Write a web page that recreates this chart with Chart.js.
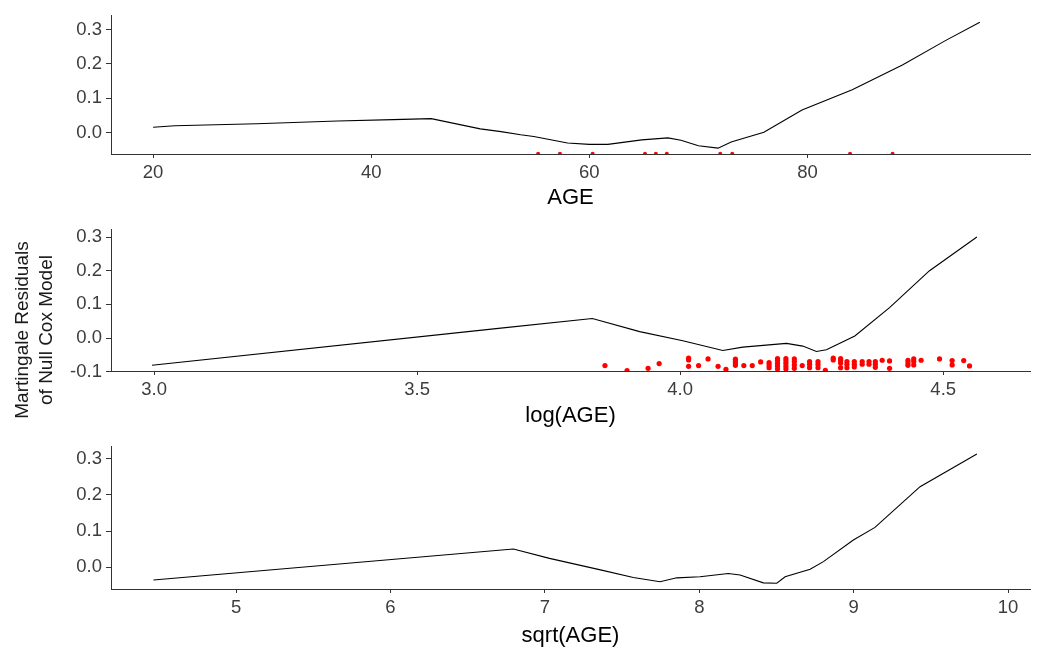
<!DOCTYPE html>
<html lang="en">
    <head>
        <meta charset="UTF-8">
        <title>Martingale residuals</title>
        <script src="https://cdn.jsdelivr.net/npm/chart.js@4/dist/chart.umd.min.js"></script>
        <style>
            body { margin: 0; background: #fff; }
            #wrap { position: relative; width: 1037px; height: 649px; overflow: hidden; }
            canvas { position: absolute; left: 0; }
            #ytitle {
                position: absolute; left: -96px; top: 306px; width: 260px; height: 48px;
                font: 19px 'Liberation Sans', Arial, sans-serif; line-height: 24px;
                text-align: center; color: #1a1a1a; transform: rotate(-90deg);
            }
        </style>
    </head>
<body>
    <div id="wrap">
        <canvas id="c1" width="1037" height="214" style="top:0px"></canvas>
        <canvas id="c2" width="1037" height="216" style="top:214px"></canvas>
        <canvas id="c3" width="1037" height="219" style="top:430px"></canvas>
        <div id="ytitle">Martingale Residuals<br>of Null Cox Model</div>
    </div>
    <script>
        // smoothed residual curves
        const ageX = [20, 22, 29.5, 36.9, 42, 45.5, 50, 51.9, 53.7, 54.9, 58, 60, 61.7, 64.8, 67.2, 68.4, 70, 71.8, 73, 76, 79.5, 84.1, 88.7, 92.6, 95.8];
        const ageY = [0.016, 0.02, 0.026, 0.034, 0.038, 0.041, 0.011, 0.003, -0.006, -0.011, -0.03, -0.034, -0.034, -0.021, -0.015, -0.022, -0.038, -0.045, -0.027, 0.001, 0.066, 0.125, 0.197, 0.267, 0.321];

        const logX = [2.996, 3.65, 3.833, 3.923, 4.005, 4.081, 4.119, 4.202, 4.233, 4.259, 4.278, 4.332, 4.398, 4.474, 4.564];
        const logY = [-0.081, 0.028, 0.058, 0.019, -0.008, -0.037, -0.027, -0.016, -0.024, -0.040, -0.035, 0.006, 0.090, 0.200, 0.300];

        const sqrtX = [4.465, 6.796, 7.03, 7.36, 7.573, 7.746, 7.854, 8.005, 8.188, 8.264, 8.415, 8.502, 8.556, 8.718, 8.804, 8.998, 9.138, 9.43, 9.798];
        const sqrtY = [-0.036, 0.05, 0.024, -0.008, -0.029, -0.041, -0.030, -0.027, -0.018, -0.022, -0.044, -0.045, -0.027, -0.006, 0.015, 0.075, 0.110, 0.223, 0.314];

        // residual points (only a few peek over the axis in the AGE panel)
        const agePtsX = [55.3, 57.3, 60.3, 65.1, 66.1, 67.1, 72, 73.1, 83.9, 87.8];
        const agePtsY = [-0.061, -0.061, -0.061, -0.061, -0.061, -0.061, -0.061, -0.061, -0.061, -0.061];

        const logPtsX = [3.857, 3.899, 3.939, 3.960,
            4.016, 4.016, 4.016, 4.035, 4.053, 4.072, 4.087,
            4.105, 4.105, 4.105, 4.105, 4.121, 4.137, 4.153,
            4.169, 4.169, 4.169,
            4.185, 4.185, 4.185, 4.185, 4.185,
            4.201, 4.201, 4.201, 4.201, 4.201,
            4.217, 4.217, 4.217, 4.217, 4.232,
            4.246, 4.246, 4.246, 4.262, 4.262, 4.262, 4.276,
            4.291, 4.291, 4.305, 4.305, 4.305, 4.305,
            4.317, 4.317, 4.317, 4.331, 4.331, 4.331,
            4.346, 4.346, 4.359, 4.359, 4.371, 4.371, 4.371,
            4.384, 4.398, 4.398, 4.433, 4.433, 4.433,
            4.444, 4.444, 4.444, 4.458, 4.493, 4.517, 4.517, 4.539, 4.550];
        const logPtsY = [-0.082, -0.097, -0.090, -0.076,
            -0.060, -0.065, -0.084, -0.082, -0.062, -0.084, -0.093,
            -0.063, -0.069, -0.076, -0.081, -0.082, -0.082, -0.071,
            -0.073, -0.080, -0.088,
            -0.061, -0.067, -0.075, -0.083, -0.092,
            -0.061, -0.068, -0.076, -0.084, -0.092,
            -0.062, -0.070, -0.080, -0.090, -0.082,
            -0.070, -0.078, -0.088, -0.070, -0.078, -0.088, -0.096,
            -0.060, -0.065, -0.061, -0.066, -0.074, -0.088,
            -0.070, -0.078, -0.088, -0.070, -0.078, -0.086,
            -0.070, -0.078, -0.070, -0.078, -0.070, -0.078, -0.087,
            -0.066, -0.068, -0.090, -0.066, -0.074, -0.081,
            -0.062, -0.070, -0.080, -0.066, -0.062, -0.067, -0.080, -0.067, -0.083];

        // tick labels
        const ageTicks = [20, 40, 60, 80];
        const logTicks = [3.0, 3.5, 4.0, 4.5];
        const sqrtTicks = [5, 6, 7, 8, 9, 10];
        const yTicks1 = [0.0, 0.1, 0.2, 0.3];
        const yTicks2 = [-0.1, 0.0, 0.1, 0.2, 0.3];
        const yTicks3 = [0.0, 0.1, 0.2, 0.3];

        Chart.defaults.font.family = "'Liberation Sans', Arial, sans-serif";

        function pairs(xs, ys) {
            return xs.map((x, i) => ({x: x, y: ys[i]}));
        }

        function makePanel(id, p) {
            new Chart(document.getElementById(id), {
                type: 'scatter',
                data: {
                    datasets: [{
                        type: 'scatter',
                        data: pairs(p.ptsX, p.ptsY),
                        backgroundColor: '#ff0000',
                        borderWidth: 0,
                        pointRadius: p.ptRadius,
                        clip: 0
                    }, {
                        type: 'line',
                        data: pairs(p.lineX, p.lineY),
                        borderColor: '#000000',
                        borderWidth: 1.1,
                        pointRadius: 0,
                        fill: false,
                        tension: 0
                    }]
                },
                options: {
                    responsive: false,
                    animation: false,
                    layout: { padding: { top: p.padTop, right: 7, left: 0, bottom: 0 } },
                    plugins: { legend: { display: false }, tooltip: { enabled: false } },
                    scales: {
                        x: {
                            type: 'linear',
                            min: p.xMin,
                            max: p.xMax,
                            afterBuildTicks: s => { s.ticks = p.xTicks.map(v => ({value: v})); },
                            afterFit: s => { s.height = p.xHeight; },
                            grid: { drawOnChartArea: false, drawTicks: true, tickLength: 4, color: '#333' },
                            border: { display: true, color: '#333', width: 1 },
                            ticks: {
                                color: '#3d3d3d', font: { size: 18.5 }, padding: 4,
                                autoSkip: false, maxRotation: 0,
                                callback: v => p.xFmt(v)
                            },
                            title: {
                                display: true, text: p.xTitle, color: '#000',
                                font: { size: 22 }, padding: { top: 0, bottom: p.titlePad }
                            }
                        },
                        y: {
                            type: 'linear',
                            min: p.yMin,
                            max: p.yMax,
                            afterBuildTicks: s => { s.ticks = p.yTicks.map(v => ({value: v})); },
                            afterFit: s => { s.width = 111; },
                            grid: { drawOnChartArea: false, drawTicks: true, tickLength: 5, color: '#333' },
                            border: { display: true, color: '#333', width: 1 },
                            ticks: {
                                color: '#3d3d3d', font: { size: 18.5 }, padding: 4,
                                callback: v => v.toFixed(1)
                            }
                        }
                    }
                }
            });
        }

        makePanel('c1', {
            lineX: ageX, lineY: ageY, ptsX: agePtsX, ptsY: agePtsY, ptRadius: 2,
            xMin: 16.14, xMax: 100.4, yMin: -0.062, yMax: 0.342,
            xTicks: ageTicks, yTicks: yTicks1, xFmt: v => String(v),
            xTitle: 'AGE', padTop: 10, xHeight: 60, titlePad: 3
        });

        makePanel('c2', {
            lineX: logX, lineY: logY, ptsX: logPtsX, ptsY: logPtsY, ptRadius: 2.6,
            xMin: 2.918, xMax: 4.665, yMin: -0.098, yMax: 0.3235,
            xTicks: logTicks, yTicks: yTicks2, xFmt: v => v.toFixed(1),
            xTitle: 'log(AGE)', padTop: 14, xHeight: 59, titlePad: 1
        });

        makePanel('c3', {
            lineX: sqrtX, lineY: sqrtY, ptsX: [], ptsY: [], ptRadius: 2.6,
            xMin: 4.19, xMax: 10.142, yMin: -0.061, yMax: 0.336,
            xTicks: sqrtTicks, yTicks: yTicks3, xFmt: v => String(v),
            xTitle: 'sqrt(AGE)', padTop: 16, xHeight: 60, titlePad: 0
        });
    </script>
</body>
</html>
